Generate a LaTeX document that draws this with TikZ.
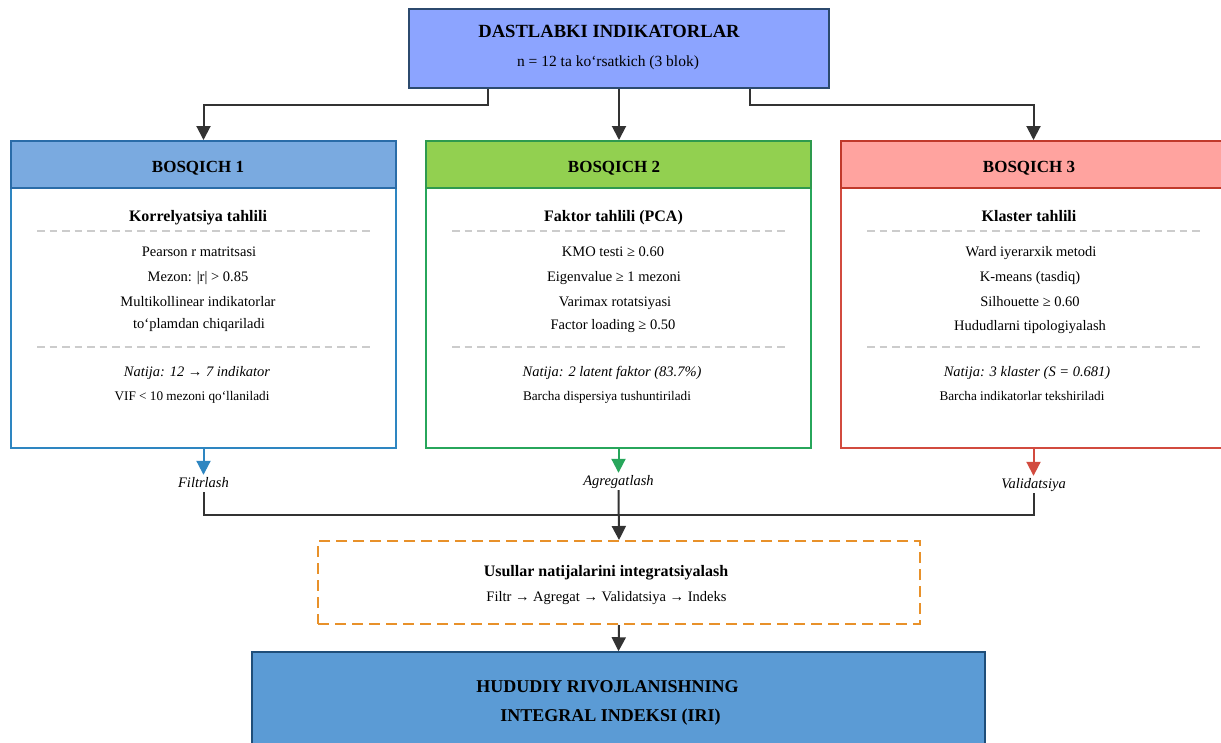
\documentclass[tikz,border=0pt]{standalone}
\usepackage{fontspec}
\setmainfont{Liberation Serif}
\usetikzlibrary{arrows.meta}
\definecolor{topFill}{HTML}{8CA4FF}
\definecolor{topLine}{HTML}{2C4A6E}
\definecolor{oneFill}{HTML}{7AAAE0}
\definecolor{oneHead}{HTML}{2A6CA8}
\definecolor{oneLine}{HTML}{2E86C1}
\definecolor{twoFill}{HTML}{92D050}
\definecolor{twoHead}{HTML}{2E9A4E}
\definecolor{twoLine}{HTML}{27A65B}
\definecolor{threeFill}{HTML}{FFA39F}
\definecolor{threeHead}{HTML}{C0392B}
\definecolor{threeLine}{HTML}{D24B3F}
\definecolor{iriFill}{HTML}{5B9BD5}
\definecolor{iriLine}{HTML}{1F4E79}
\definecolor{joinOrange}{HTML}{E8912A}
\definecolor{flowGray}{HTML}{333333}
\tikzstyle{stageHead}=[draw, line width = 2pt, minimum width = 385pt, minimum height = 47pt, inner sep = 0pt]
\tikzstyle{stageBody}=[draw, fill = white, line width = 2.2pt, minimum width = 385pt, minimum height = 260pt, inner sep = 0pt]
\tikzstyle{txtBody}=[anchor = base, inner sep = 0pt, font = \fontsize{14.5}{17}\selectfont]
\tikzstyle{txtSmall}=[anchor = base, inner sep = 0pt, font = \fontsize{13.2}{16}\selectfont]
\tikzstyle{txtNatija}=[anchor = base, inner sep = 0pt, font = \fontsize{14.5}{17}\selectfont\itshape]
\tikzstyle{txtTitle}=[anchor = base, inner sep = 0pt, font = \fontsize{16}{19}\selectfont\bfseries]
\tikzstyle{txtHead}=[anchor = base, inner sep = 0pt, font = \fontsize{17}{20}\selectfont\bfseries]

\begin{document}
\begin{tikzpicture}[x = 1pt, y = -1pt]
\tikzstyle{flowLine}=[draw = flowGray, line width = 2pt]
\tikzstyle{flowArrow}=[flowLine, -{Triangle[width = 14pt, length = 14pt]}]
\tikzstyle{stageArrow}=[line width = 2pt, -{Triangle[width = 14pt, length = 14pt]}]
\tikzstyle{sepLine}=[draw = black!20, line width = 1.2pt, dash pattern = on 7.5pt off 5pt]
\tikzstyle{stepLabel}=[anchor = base, inner sep = 2pt, text height = 10pt, text depth = 3pt, font = \fontsize{14.5}{17}\selectfont\itshape]
\path[use as bounding box, fill = white] (0,0) rectangle (1221,742);

\node[draw = topLine, fill = topFill, line width = 2pt, minimum width = 420pt, minimum height = 79pt] (top) at (619,48.5) {};
\node[txtHead, font = \fontsize{18.6}{22}\selectfont\bfseries] (topT) at (609,37) {DASTLABKI INDIKATORLAR};
\node[txtBody, font = \fontsize{15.5}{18}\selectfont] (topS) at (608,66) {n = 12 ta ko‘rsatkich (3 blok)};

\node[stageBody, draw = oneLine] (b1) at (203.5,318) {};
\node[stageHead, draw = oneHead, fill = oneFill] (h1) at (203.5,164.5) {};
\node[stageBody, draw = twoLine] (b2) at (618.5,318) {};
\node[stageHead, draw = twoHead, fill = twoFill] (h2) at (618.5,164.5) {};
\node[stageBody, draw = threeLine] (b3) at (1033.5,318) {};
\node[stageHead, draw = threeHead, fill = threeFill] (h3) at (1033.5,164.5) {};

\node[txtHead] (h1T) at (198,172) {BOSQICH 1};
\node[txtHead] (h2T) at (614,172) {BOSQICH 2};
\node[txtHead] (h3T) at (1029,172) {BOSQICH 3};

\node[txtTitle] (b1T) at (198,221) {Korrelyatsiya tahlili};
\draw[sepLine] (37,231) -- (370,231);
\node[txtBody] (b1a) at (199,256) {Pearson r matritsasi};
\node[txtBody] (b1b) at (198,281) {Mezon: |r| > 0.85};
\node[txtBody] (b1c) at (198,306) {Multikollinear indikatorlar};
\node[txtBody] (b1d) at (199,328) {to‘plamdan chiqariladi};
\draw[sepLine] (37,347) -- (370,347);
\node[txtNatija] (b1n) at (197,376) {Natija: 12 → 7 indikator};
\node[txtSmall] (b1s) at (192,400.5) {VIF < 10 mezoni qo‘llaniladi};

\node[txtTitle] (b2T) at (613.5,221) {Faktor tahlili (PCA)};
\draw[sepLine] (452,231) -- (785,231);
\node[txtBody] (b2a) at (613,256) {KMO testi ≥ 0.60};
\node[txtBody] (b2b) at (614,281) {Eigenvalue ≥ 1 mezoni};
\node[txtBody] (b2c) at (615,306) {Varimax rotatsiyasi};
\node[txtBody] (b2d) at (613,329) {Factor loading ≥ 0.50};
\draw[sepLine] (452,347) -- (785,347);
\node[txtNatija] (b2n) at (612,376) {Natija: 2 latent faktor (83.7\%)};
\node[txtSmall] (b2s) at (607,400.5) {Barcha dispersiya tushuntiriladi};

\node[txtTitle] (b3T) at (1029,221) {Klaster tahlili};
\draw[sepLine] (867,231) -- (1200,231);
\node[txtBody] (b3a) at (1031,256) {Ward iyerarxik metodi};
\node[txtBody] (b3b) at (1030,281) {K-means (tasdiq)};
\node[txtBody] (b3c) at (1030,306) {Silhouette ≥ 0.60};
\node[txtBody] (b3d) at (1030,330) {Hududlarni tipologiyalash};
\draw[sepLine] (867,347) -- (1200,347);
\node[txtNatija] (b3n) at (1027,376) {Natija: 3 klaster (S = 0.681)};
\node[txtSmall] (b3s) at (1022,400.5) {Barcha indikatorlar tekshiriladi};

\node[stepLabel] (lab1) at (203.5,487) {Filtrlash};
\node[stepLabel] (lab2) at (618.5,485) {Agregatlash};
\node[stepLabel] (lab3) at (1033.5,488) {Validatsiya};
\coordinate (jn) at (618.5,515);

\node[draw = joinOrange, line width = 2pt, dash pattern = on 11pt off 6pt, minimum width = 602pt, minimum height = 83pt] (integ) at (619,582.5) {};
\node[txtTitle] (integT) at (606,576) {Usullar natijalarini integratsiyalash};
\node[txtBody] (integS) at (606.5,601) {Filtr → Agregat → Validatsiya → Indeks};

\node[draw = iriLine, fill = iriFill, line width = 1.5pt, minimum width = 733pt, minimum height = 96pt] (iri) at (618.5,700) {};
\node[txtHead, font = \fontsize{18}{21}\selectfont\bfseries] (iriA) at (607.5,692) {HUDUDIY RIVOJLANISHNING};
\node[txtHead, font = \fontsize{18}{21}\selectfont\bfseries] (iriB) at (610.5,721) {INTEGRAL INDEKSI (IRI)};

\draw[flowArrow] ([xshift = -131pt]top.south) -- ++(0,16) -| (h1.north);
\draw[flowArrow] (top.south) -- (top.south |- h2.north);
\draw[flowArrow] ([xshift = 131pt]top.south) -- ++(0,16) -| (h3.north);
\draw[stageArrow, draw = oneLine, fill = oneLine] (b1.south) -- (lab1.north);
\draw[stageArrow, draw = twoLine, fill = twoLine] (b2.south) -- (lab2.north);
\draw[stageArrow, draw = threeLine, fill = threeLine] (b3.south) -- (lab3.north);
\draw[flowLine] (lab1.south) |- (jn) -| (lab3.south);
\draw[flowArrow] (lab2.south) -- (integ.north);
\draw[flowArrow] (integ.south) -- (iri.north);
\end{tikzpicture}
\end{document}
